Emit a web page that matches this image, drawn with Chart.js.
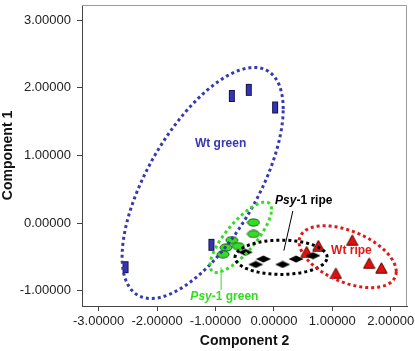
<!DOCTYPE html>
<html>
<head>
<meta charset="utf-8">
<script src="https://cdn.jsdelivr.net/npm/chart.js@4"></script>
<style>
  html, body { margin: 0; padding: 0; background: #fff; }
  #box { width: 415px; height: 351px; }
</style>
</head>
<body>
<div id="box"><canvas id="grafico"></canvas></div>
<script>
// valores (Component 2 = x, Component 1 = y)
const wtGreenX = [-0.72, -0.43, 0.02, -1.07, -2.54];
const wtGreenY = [1.88, 1.97, 1.71, -0.32, -0.65];

const psyGreenX = [-0.35, -0.35, -0.72, -0.61, -0.82, -0.87];
const psyGreenY = [0.01, -0.16, -0.25, -0.34, -0.36, -0.46];

const psyRipeX = [-0.49, -0.18, -0.31, 0.15, 0.38, 0.67];
const psyRipeY = [-0.43, -0.53, -0.61, -0.61, -0.53, -0.48];

const wtRipeX = [1.34, 0.76, 0.56, 1.63, 1.84, 1.06];
const wtRipeY = [-0.25, -0.33, -0.42, -0.59, -0.66, -0.74];

const xTicks = [-3, -2, -1, 0, 1, 2];
const yTicks = [-1, 0, 1, 2, 3];

// elipses: centro, meia largura, meia altura, correlação
const elipseNomes = ['Wt green', 'Psy-1 green', 'Psy-1 ripe', 'Wt ripe'];
const elipseCx = [-1.22, -0.567, 0.123, 1.263];
const elipseCy = [0.594, -0.208, -0.504, -0.496];
const elipseRx = [1.379, 0.526, 0.788, 0.831];
const elipseRy = [1.708, 0.52, 0.253, 0.457];
const elipseRho = [0.64, 0.794, 0.0, -0.48];

const azul = '#3838b0';
const verde = '#33dd22';
const vermelho = '#e01818';

function marcador(w, h, desenha) {
  const c = document.createElement('canvas');
  c.width = w; c.height = h;
  desenha(c.getContext('2d'));
  return c;
}

const retangulo = marcador(8, 14, g => {
  g.fillStyle = '#3434b4'; g.strokeStyle = '#15154a'; g.lineWidth = 1;
  g.fillRect(1, 1, 6, 12); g.strokeRect(1.5, 1.5, 5, 11);
});
const oval = marcador(14, 9, g => {
  g.fillStyle = '#33dd22'; g.strokeStyle = '#145a10'; g.lineWidth = 1;
  g.beginPath(); g.ellipse(7, 4.5, 6, 3.6, 0, 0, Math.PI * 2); g.fill(); g.stroke();
});
const losango = marcador(16, 8, g => {
  g.fillStyle = '#000';
  g.beginPath(); g.moveTo(0.5, 4); g.lineTo(8, 0.5); g.lineTo(15.5, 4); g.lineTo(8, 7.5); g.closePath(); g.fill();
});
const triangulo = marcador(13, 12, g => {
  g.fillStyle = '#e01010'; g.strokeStyle = '#600000'; g.lineWidth = 1;
  g.beginPath(); g.moveTo(6.5, 0.8); g.lineTo(12.2, 11.2); g.lineTo(0.8, 11.2); g.closePath(); g.fill(); g.stroke();
});

function pontos(xs, ys) { return xs.map((x, i) => ({ x: x, y: ys[i] })); }

const coresElipse = [azul, verde, '#000', vermelho];

const elipsesPlugin = {
  id: 'elipses',
  afterDatasetsDraw(chart) {
    const { ctx, scales: { x, y } } = chart;
    ctx.save();
    for (let k = 0; k < elipseCx.length; k++) {
      const s = Math.sqrt(1 - elipseRho[k] * elipseRho[k]);
      ctx.beginPath();
      for (let i = 0; i <= 120; i++) {
        const t = i / 120 * Math.PI * 2;
        const px = x.getPixelForValue(elipseCx[k] + elipseRx[k] * Math.cos(t));
        const py = y.getPixelForValue(elipseCy[k] + elipseRy[k] * (elipseRho[k] * Math.cos(t) + s * Math.sin(t)));
        if (i === 0) ctx.moveTo(px, py); else ctx.lineTo(px, py);
      }
      ctx.strokeStyle = coresElipse[k];
      ctx.lineWidth = 3;
      ctx.setLineDash([3, 3]);
      ctx.stroke();
    }
    ctx.setLineDash([]);

    // linhas de chamada
    ctx.lineWidth = 1;
    ctx.strokeStyle = '#000';
    ctx.beginPath();
    ctx.moveTo(x.getPixelForValue(0.324), y.getPixelForValue(0.18));
    ctx.lineTo(x.getPixelForValue(0.17), y.getPixelForValue(-0.406));
    ctx.stroke();
    ctx.strokeStyle = verde;
    ctx.beginPath();
    ctx.moveTo(x.getPixelForValue(-0.904), y.getPixelForValue(-0.654));
    ctx.lineTo(x.getPixelForValue(-0.904), y.getPixelForValue(-0.99));
    ctx.stroke();

    // rótulos
    ctx.textBaseline = 'middle';
    ctx.font = 'bold 12px "Liberation Sans", Arial, sans-serif';
    ctx.textAlign = 'center';
    ctx.fillStyle = azul;
    ctx.fillText('Wt green', x.getPixelForValue(-0.913), y.getPixelForValue(1.18));
    ctx.fillStyle = vermelho;
    ctx.fillText('Wt ripe', x.getPixelForValue(1.326), y.getPixelForValue(-0.406));

    ctx.textAlign = 'left';
    function psy(resto, vx, vy, cor) {
      let px = x.getPixelForValue(vx);
      const py = y.getPixelForValue(vy);
      ctx.fillStyle = cor;
      ctx.font = 'italic bold 12px "Liberation Sans", Arial, sans-serif';
      ctx.fillText('Psy', px, py);
      px += ctx.measureText('Psy').width;
      ctx.font = 'bold 12px "Liberation Sans", Arial, sans-serif';
      ctx.fillText(resto, px, py);
    }
    psy('-1 ripe', 0.02, 0.33, '#000');
    psy('-1 green', -1.43, -1.079, verde);

    // moldura
    ctx.strokeStyle = '#999';
    ctx.lineWidth = 1;
    const a = chart.chartArea;
    ctx.beginPath();
    ctx.moveTo(a.left, a.top + 0.5); ctx.lineTo(a.right - 0.5, a.top + 0.5); ctx.lineTo(a.right - 0.5, a.bottom);
    ctx.stroke();
    ctx.restore();
  }
};

new Chart(document.getElementById('grafico').getContext('2d'), {
  type: 'scatter',
  data: {
    datasets: [
      { label: 'Wt green', data: pontos(wtGreenX, wtGreenY), pointStyle: retangulo },
      { label: 'Psy-1 green', data: pontos(psyGreenX, psyGreenY), pointStyle: oval },
      { label: 'Psy-1 ripe', data: pontos(psyRipeX, psyRipeY), pointStyle: losango },
      { label: 'Wt ripe', data: pontos(wtRipeX, wtRipeY), pointStyle: triangulo }
    ]
  },
  options: {
    responsive: true,
    maintainAspectRatio: false,
    animation: false,
    layout: { padding: { left: 0, top: 2, right: 8, bottom: 0 } },
    plugins: { legend: { display: false }, tooltip: { enabled: false } },
    scales: {
      x: {
        type: 'linear',
        min: -3.285,
        max: 2.278,
        afterBuildTicks: s => { s.ticks = xTicks.map(v => ({ value: v })); },
        afterFit: s => { s.height = 45; s.paddingLeft = 0; s.paddingRight = 0; },
        grid: { drawOnChartArea: false, tickLength: 5, color: '#444' },
        border: { color: '#444' },
        ticks: {
          padding: 3,
          color: '#222',
          font: { family: '"Liberation Sans", Arial', size: 13 },
          maxRotation: 0,
          callback: v => v.toFixed(5)
        },
        title: {
          display: true,
          text: 'Component 2',
          color: '#111',
          padding: { top: 0, bottom: 1 },
          font: { family: '"Liberation Sans", Arial', size: 14, weight: 'bold' }
        }
      },
      y: {
        type: 'linear',
        min: -1.224,
        max: 3.224,
        afterBuildTicks: s => { s.ticks = yTicks.map(v => ({ value: v })); },
        afterFit: s => { s.width = 82; s.paddingTop = 0; s.paddingBottom = 0; },
        grid: { drawOnChartArea: false, tickLength: 5, color: '#444' },
        border: { color: '#444' },
        ticks: {
          padding: 6,
          color: '#222',
          font: { family: '"Liberation Sans", Arial', size: 13 },
          callback: v => v.toFixed(5)
        },
        title: {
          display: true,
          text: 'Component 1',
          color: '#111',
          padding: { top: 0, bottom: 0 },
          font: { family: '"Liberation Sans", Arial', size: 14, weight: 'bold' }
        }
      }
    }
  },
  plugins: [elipsesPlugin]
});
</script>
</body>
</html>
